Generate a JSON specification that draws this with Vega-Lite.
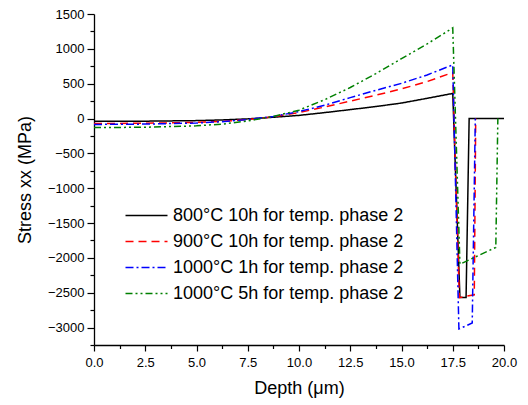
{
  "$schema": "https://vega.github.io/schema/vega-lite/v6.json",
  "width": 410,
  "height": 331,
  "autosize": {"type": "none"},
  "padding": {"left": 94, "top": 14, "right": 24, "bottom": 60},
  "background": "white",
  "config": {
    "view": {"stroke": null},
    "font": "Liberation Sans",
    "axis": {
      "labelFont": "Liberation Sans",
      "titleFont": "Liberation Sans",
      "labelColor": "#000",
      "titleColor": "#000",
      "domainColor": "#000",
      "tickColor": "#000",
      "domainWidth": 1.3,
      "tickWidth": 1.2,
      "grid": false,
      "labelFontSize": 13,
      "titleFontSize": 18,
      "titleFontWeight": "normal"
    }
  },
  "data": {
    "values": [
      {"s": "800°C 10h for temp. phase 2", "depth": 0, "stress": -40},
      {"s": "800°C 10h for temp. phase 2", "depth": 2.5, "stress": -38},
      {"s": "800°C 10h for temp. phase 2", "depth": 5, "stress": -30},
      {"s": "800°C 10h for temp. phase 2", "depth": 6.25, "stress": -20},
      {"s": "800°C 10h for temp. phase 2", "depth": 7.5, "stress": -5},
      {"s": "800°C 10h for temp. phase 2", "depth": 8.75, "stress": 18},
      {"s": "800°C 10h for temp. phase 2", "depth": 10, "stress": 45},
      {"s": "800°C 10h for temp. phase 2", "depth": 11.25, "stress": 85},
      {"s": "800°C 10h for temp. phase 2", "depth": 12.5, "stress": 128},
      {"s": "800°C 10h for temp. phase 2", "depth": 13.75, "stress": 172},
      {"s": "800°C 10h for temp. phase 2", "depth": 15, "stress": 222},
      {"s": "800°C 10h for temp. phase 2", "depth": 16.25, "stress": 290},
      {"s": "800°C 10h for temp. phase 2", "depth": 17.5, "stress": 360},
      {"s": "800°C 10h for temp. phase 2", "depth": 17.85, "stress": -2570},
      {"s": "800°C 10h for temp. phase 2", "depth": 18.15, "stress": -2570},
      {"s": "800°C 10h for temp. phase 2", "depth": 18.3, "stress": 0},
      {"s": "800°C 10h for temp. phase 2", "depth": 20, "stress": 0},

      {"s": "900°C 10h for temp. phase 2", "depth": 0, "stress": -72},
      {"s": "900°C 10h for temp. phase 2", "depth": 2.5, "stress": -68},
      {"s": "900°C 10h for temp. phase 2", "depth": 5, "stress": -55},
      {"s": "900°C 10h for temp. phase 2", "depth": 6.25, "stress": -40},
      {"s": "900°C 10h for temp. phase 2", "depth": 7.5, "stress": -15},
      {"s": "900°C 10h for temp. phase 2", "depth": 8.75, "stress": 25},
      {"s": "900°C 10h for temp. phase 2", "depth": 10, "stress": 85},
      {"s": "900°C 10h for temp. phase 2", "depth": 11.25, "stress": 165},
      {"s": "900°C 10h for temp. phase 2", "depth": 12.5, "stress": 250},
      {"s": "900°C 10h for temp. phase 2", "depth": 13.75, "stress": 335},
      {"s": "900°C 10h for temp. phase 2", "depth": 15, "stress": 425},
      {"s": "900°C 10h for temp. phase 2", "depth": 16.25, "stress": 530},
      {"s": "900°C 10h for temp. phase 2", "depth": 17.5, "stress": 660},
      {"s": "900°C 10h for temp. phase 2", "depth": 17.82, "stress": -2570},
      {"s": "900°C 10h for temp. phase 2", "depth": 18.55, "stress": -2530},
      {"s": "900°C 10h for temp. phase 2", "depth": 18.62, "stress": 0},

      {"s": "1000°C 1h for temp. phase 2", "depth": 0, "stress": -85},
      {"s": "1000°C 1h for temp. phase 2", "depth": 2.5, "stress": -80},
      {"s": "1000°C 1h for temp. phase 2", "depth": 5, "stress": -65},
      {"s": "1000°C 1h for temp. phase 2", "depth": 6.25, "stress": -45},
      {"s": "1000°C 1h for temp. phase 2", "depth": 7.5, "stress": -15},
      {"s": "1000°C 1h for temp. phase 2", "depth": 8.75, "stress": 30},
      {"s": "1000°C 1h for temp. phase 2", "depth": 10, "stress": 100},
      {"s": "1000°C 1h for temp. phase 2", "depth": 11.25, "stress": 190},
      {"s": "1000°C 1h for temp. phase 2", "depth": 12.5, "stress": 300},
      {"s": "1000°C 1h for temp. phase 2", "depth": 13.75, "stress": 405},
      {"s": "1000°C 1h for temp. phase 2", "depth": 15, "stress": 505},
      {"s": "1000°C 1h for temp. phase 2", "depth": 16.25, "stress": 625},
      {"s": "1000°C 1h for temp. phase 2", "depth": 17.5, "stress": 770},
      {"s": "1000°C 1h for temp. phase 2", "depth": 17.8, "stress": -3020},
      {"s": "1000°C 1h for temp. phase 2", "depth": 18.45, "stress": -2935},
      {"s": "1000°C 1h for temp. phase 2", "depth": 18.6, "stress": 0},

      {"s": "1000°C 5h for temp. phase 2", "depth": 0, "stress": -130},
      {"s": "1000°C 5h for temp. phase 2", "depth": 2.5, "stress": -125},
      {"s": "1000°C 5h for temp. phase 2", "depth": 5, "stress": -105},
      {"s": "1000°C 5h for temp. phase 2", "depth": 6.25, "stress": -80},
      {"s": "1000°C 5h for temp. phase 2", "depth": 7.5, "stress": -35},
      {"s": "1000°C 5h for temp. phase 2", "depth": 8.75, "stress": 30},
      {"s": "1000°C 5h for temp. phase 2", "depth": 10, "stress": 120},
      {"s": "1000°C 5h for temp. phase 2", "depth": 11.25, "stress": 270},
      {"s": "1000°C 5h for temp. phase 2", "depth": 12.5, "stress": 445},
      {"s": "1000°C 5h for temp. phase 2", "depth": 13.75, "stress": 645},
      {"s": "1000°C 5h for temp. phase 2", "depth": 15, "stress": 860},
      {"s": "1000°C 5h for temp. phase 2", "depth": 16.25, "stress": 1070},
      {"s": "1000°C 5h for temp. phase 2", "depth": 17.5, "stress": 1300},
      {"s": "1000°C 5h for temp. phase 2", "depth": 17.85, "stress": -2090},
      {"s": "1000°C 5h for temp. phase 2", "depth": 19.6, "stress": -1850},
      {"s": "1000°C 5h for temp. phase 2", "depth": 19.7, "stress": 0}
    ]
  },
  "resolve": {"axis": {"x": "independent", "y": "independent"}},
  "layer": [
    {
      "mark": {"type": "line", "strokeWidth": 1.5},
      "encoding": {
        "x": {
          "field": "depth", "type": "quantitative",
          "scale": {"domain": [0, 20], "nice": false, "zero": false},
          "axis": {
            "title": "Depth (μm)", "orient": "bottom",
            "values": [0, 2.5, 5, 7.5, 10, 12.5, 15, 17.5, 20],
            "format": ".1f", "tickSize": 6, "labelPadding": 5, "titlePadding": 10,
            "labelFlush": false, "labelOverlap": false
          }
        },
        "y": {
          "field": "stress", "type": "quantitative",
          "scale": {"domain": [-3250, 1500], "nice": false, "zero": false},
          "axis": {
            "title": "Stress xx (MPa)", "orient": "left",
            "values": [1500, 1000, 500, 0, -500, -1000, -1500, -2000, -2500, -3000],
            "format": "d", "tickSize": 7, "labelPadding": 3, "titlePadding": 13,
            "labelFlush": false, "labelOverlap": false
          }
        },
        "color": {
          "field": "s", "type": "nominal",
          "scale": {
            "domain": ["800°C 10h for temp. phase 2", "900°C 10h for temp. phase 2", "1000°C 1h for temp. phase 2", "1000°C 5h for temp. phase 2"],
            "range": ["#000000", "#ff0000", "#0000ff", "#008000"]
          },
          "legend": {
            "title": null, "orient": "none", "legendX": 41, "legendY": 190,
            "symbolType": "M-2,0L2,0", "symbolSize": 441, "symbolStrokeWidth": 1.5,
            "labelFont": "Liberation Sans", "labelFontSize": 18, "labelColor": "#000",
            "labelLimit": 400, "labelOffset": 15, "rowPadding": 5, "padding": 0
          }
        },
        "strokeDash": {
          "field": "s", "type": "nominal",
          "scale": {
            "domain": ["800°C 10h for temp. phase 2", "900°C 10h for temp. phase 2", "1000°C 1h for temp. phase 2", "1000°C 5h for temp. phase 2"],
            "range": [[1, 0], [8, 5], [8, 3, 2, 3], [7, 3, 2, 3, 2, 3]]
          },
          "legend": {
            "title": null, "orient": "none", "legendX": 41, "legendY": 190,
            "symbolType": "M-2,0L2,0", "symbolSize": 441, "symbolStrokeWidth": 1.5,
            "labelFont": "Liberation Sans", "labelFontSize": 18, "labelColor": "#000",
            "labelLimit": 400, "labelOffset": 15, "rowPadding": 5, "padding": 0
          }
        }
      }
    },
    {
      "mark": {"type": "point", "opacity": 0},
      "encoding": {
        "x": {
          "field": "depth", "type": "quantitative",
          "axis": {
            "title": null, "orient": "bottom", "labels": false, "domain": false,
            "values": [1.25, 3.75, 6.25, 8.75, 11.25, 13.75, 16.25, 18.75],
            "tickSize": 3.5
          }
        },
        "y": {
          "field": "stress", "type": "quantitative",
          "axis": {
            "title": null, "orient": "left", "labels": false, "domain": false,
            "values": [1250, 750, 250, -250, -750, -1250, -1750, -2250, -2750, -3250],
            "tickSize": 4
          }
        }
      }
    }
  ]
}
